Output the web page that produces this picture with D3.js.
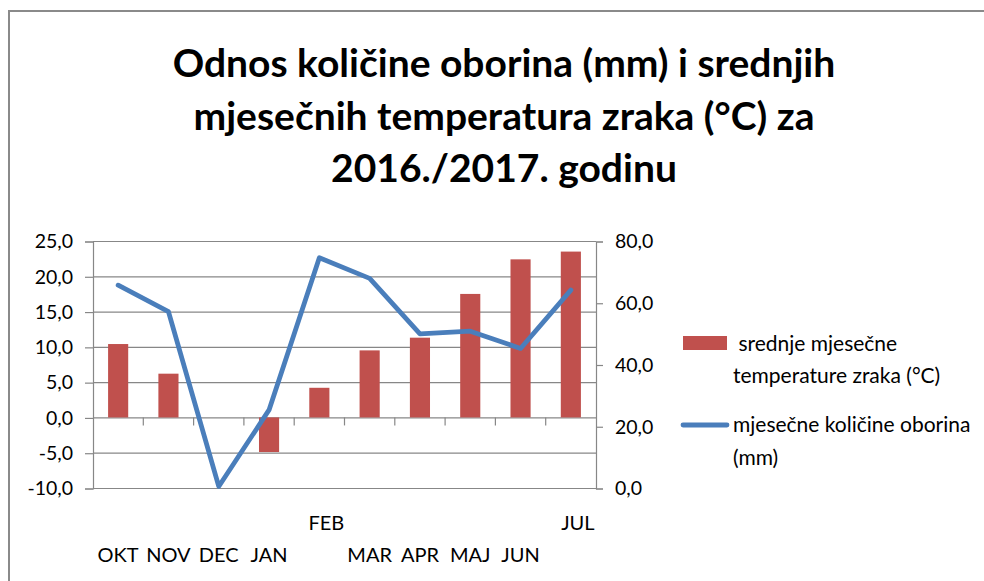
<!DOCTYPE html>
<html>
<head>
<meta charset="utf-8">
<script src="https://cdn.jsdelivr.net/npm/d3@7"></script>
<style>
  html, body { margin: 0; padding: 0; background: #fff; overflow: hidden; }
  svg { display: block; }
  svg text { font-family: Lato, "Open Sans", "Liberation Sans", sans-serif; fill: #000; }
</style>
</head>
<body>
<svg id="chart" width="984" height="581"></svg>
<script>
// data
var months = ["OKT", "NOV", "DEC", "JAN", "FEB", "MAR", "APR", "MAJ", "JUN", "JUL"];
// tick labels as Excel shows them (FEB and JUL sit on the first line)
var tickLabels = ["\nOKT", "\nNOV", "\nDEC", "\nJAN", "FEB\n", "\nMAR", "\nAPR", "\nMAJ", "\nJUN", "JUL\n"];
var temperature = [10.4, 6.2, 0.0, -4.9, 4.2, 9.5, 11.3, 17.5, 22.4, 23.5];
var precipitation = [65.7, 57.1, 0.5, 25.3, 74.6, 67.9, 49.9, 50.8, 45.2, 64.1];
var leftTicks = [-10, -5, 0, 5, 10, 15, 20, 25];
var rightTicks = [0, 20, 40, 60, 80];
var titleLines = ["Odnos količine oborina (mm) i srednjih",
                  "mjesečnih temperatura zraka (°C) za",
                  "2016./2017. godinu"];
var legendTemp = [" srednje mjesečne", "temperature zraka (°C)"];
var legendRain = ["mjesečne količine oborina", "(mm)"];

// Layout
var plotL = 93, plotR = 596, plotT = 241, plotB = 488;
var gridColor = "#878787",
    barColor = "#C0504D",
    lineColor = "#4A7EBB";

var svg = d3.select("#chart");

// chart frame (only top and left edges are in view)
svg.append("path")
  .attr("d", "M9,600V11H1000")
  .attr("fill", "none")
  .attr("stroke", "#8a8a8a")
  .attr("stroke-width", 2);

// title
svg.append("g").selectAll("text")
  .data(titleLines).enter()
  .append("text")
  .attr("x", 504)
  .attr("y", function(d, i) { return 77 + i * 52.5; })
  .attr("text-anchor", "middle")
  .style("font-size", "39px")
  .style("font-weight", "bold")
  .text(function(d) { return d; });

// scales
var x = d3.scaleBand().domain(months).range([plotL, plotR])
          .paddingInner(0.6).paddingOuter(0.3);
var yL = d3.scaleLinear().domain([-10, 25]).range([plotB, plotT]);
var yR = d3.scaleLinear().domain([0, 80]).range([plotB, plotT]);

var fmt = function(d) { return d.toFixed(1).replace(".", ","); };

// gridlines
svg.append("g").selectAll("line")
  .data(leftTicks).enter()
  .append("line")
  .attr("x1", plotL).attr("x2", plotR)
  .attr("y1", function(d) { return yL(d) + 0.5; })
  .attr("y2", function(d) { return yL(d) + 0.5; })
  .attr("stroke", gridColor)
  .attr("stroke-width", 1.2);

// left axis
var axL = svg.append("g")
  .attr("transform", "translate(" + plotL + ",0.5)")
  .call(d3.axisLeft(yL).tickValues(leftTicks).tickFormat(fmt)
        .tickSize(8).tickPadding(12));
// right axis
var axR = svg.append("g")
  .attr("transform", "translate(" + plotR + ",0.5)")
  .call(d3.axisRight(yR).tickValues(rightTicks).tickFormat(fmt)
        .tickSize(7).tickPadding(12));

[axL, axR].forEach(function(ax) {
  ax.select(".domain").attr("stroke", gridColor).attr("stroke-width", 1.2);
  ax.selectAll(".tick line").attr("stroke", gridColor).attr("stroke-width", 1.2);
  ax.selectAll(".tick text")
    .style("font-size", "19.5px")
    .style("font-family", "Lato, 'Open Sans', sans-serif")
    .attr("fill", "#000");
});

// category ticks on the zero line
var step = x.step();
svg.append("g").selectAll("line")
  .data(months.slice(1)).enter()
  .append("line")
  .attr("x1", function(d) { return x(d) - x.paddingInner() * step / 2; })
  .attr("x2", function(d) { return x(d) - x.paddingInner() * step / 2; })
  .attr("y1", yL(0))
  .attr("y2", yL(0) + 8)
  .attr("stroke", gridColor)
  .attr("stroke-width", 1.2);

// bars
svg.append("g").selectAll("rect")
  .data(temperature).enter()
  .append("rect")
  .attr("x", function(d, i) { return x(months[i]); })
  .attr("width", x.bandwidth())
  .attr("y", function(d) { return yL(Math.max(0, d)); })
  .attr("height", function(d) { return Math.abs(yL(d) - yL(0)); })
  .attr("fill", barColor);

// precipitation line
var line = d3.line()
  .x(function(d, i) { return x(months[i]) + x.bandwidth() / 2; })
  .y(function(d) { return yR(d); });
svg.append("path")
  .datum(precipitation)
  .attr("d", line)
  .attr("fill", "none")
  .attr("stroke", lineColor)
  .attr("stroke-width", 4.8)
  .attr("stroke-linejoin", "round")
  .attr("stroke-linecap", "round");

// category labels (two lines each)
var lab = svg.append("g").selectAll("text")
  .data(tickLabels).enter()
  .append("text")
  .attr("text-anchor", "middle")
  .style("font-size", "20px");
lab.each(function(d, i) {
  var t = d3.select(this);
  var cx = x(months[i]) + x.bandwidth() / 2;
  d.split("\n").forEach(function(s, j) {
    if (!s) return;
    t.append("tspan")
      .attr("x", cx + (j == 0 ? 7 : 0))
      .attr("y", 530 + j * 32)
      .text(s);
  });
});

// legend
var leg = svg.append("g");
leg.append("rect")
  .attr("x", 683).attr("y", 336)
  .attr("width", 44).attr("height", 14)
  .attr("fill", barColor);
leg.append("g").selectAll("text")
  .data(legendTemp).enter()
  .append("text")
  .attr("x", 733)
  .attr("y", function(d, i) { return 351 + i * 32; })
  .attr("xml:space", "preserve")
  .style("white-space", "pre")
  .style("font-size", "21px")
  .text(function(d) { return d; });

leg.append("line")
  .attr("x1", 683).attr("x2", 727)
  .attr("y1", 425).attr("y2", 425)
  .attr("stroke", lineColor)
  .attr("stroke-width", 4.8)
  .attr("stroke-linecap", "round");
leg.append("g").selectAll("text")
  .data(legendRain).enter()
  .append("text")
  .attr("x", 733)
  .attr("y", function(d, i) { return 432 + i * 33; })
  .style("font-size", "21px")
  .text(function(d) { return d; });
</script>
</body>
</html>
